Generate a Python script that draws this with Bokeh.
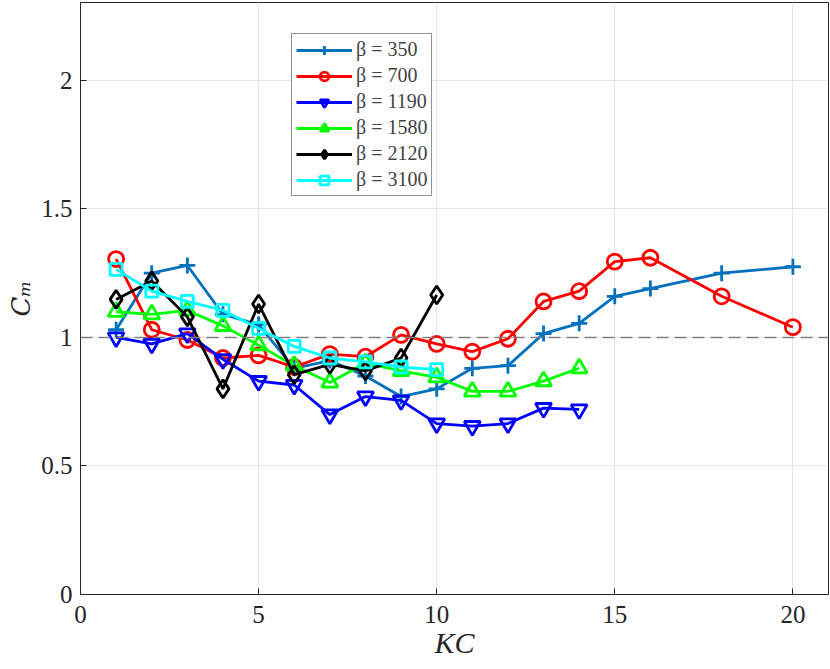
from bokeh.plotting import figure
from bokeh.embed import file_html
from bokeh.resources import INLINE
from bokeh.models import Range1d, Span, FixedTicker, Legend, LegendItem

kc_350 = [1, 2, 3, 4, 5, 6, 7, 8, 9, 10, 11, 12, 13, 14, 15, 16, 18, 20]
cm_350 = [1.03, 1.25, 1.28, 1.09, 1.05, 0.88, 0.91, 0.85, 0.77, 0.80, 0.88, 0.89, 1.015, 1.055, 1.16, 1.19, 1.25, 1.275]

kc_700 = [1, 2, 3, 4, 5, 6, 7, 8, 9, 10, 11, 12, 13, 14, 15, 16, 18, 20]
cm_700 = [1.305, 1.03, 0.99, 0.92, 0.93, 0.885, 0.935, 0.925, 1.01, 0.975, 0.945, 0.995, 1.14, 1.18, 1.295, 1.31, 1.16, 1.04]

kc_1190 = [1, 2, 3, 4, 5, 6, 7, 8, 9, 10, 11, 12, 13, 14]
cm_1190 = [1.0, 0.975, 1.015, 0.915, 0.83, 0.815, 0.70, 0.77, 0.755, 0.665, 0.655, 0.665, 0.725, 0.72]

kc_1580 = [1, 2, 3, 4, 5, 6, 7, 8, 9, 10, 11, 12, 13, 14]
cm_1580 = [1.10, 1.09, 1.105, 1.045, 0.97, 0.89, 0.825, 0.90, 0.87, 0.845, 0.79, 0.79, 0.83, 0.88]

kc_2120 = [1, 2, 3, 4, 5, 6, 7, 8, 9, 10]
cm_2120 = [1.148, 1.22, 1.08, 0.80, 1.13, 0.855, 0.895, 0.87, 0.92, 1.165]

kc_3100 = [1, 2, 3, 4, 5, 6, 7, 8, 9, 10]
cm_3100 = [1.265, 1.18, 1.14, 1.105, 1.035, 0.965, 0.92, 0.905, 0.885, 0.875]

labels = ["β = 350", "β = 700", "β = 1190", "β = 1580", "β = 2120", "β = 3100"]
x_ticks = [0, 5, 10, 15, 20]
y_ticks = [0, 0.5, 1, 1.5, 2]

series = [
    (kc_350, cm_350, "#0072BD", "cross", 16),
    (kc_700, cm_700, "#FF0000", "circle", 15),
    (kc_1190, cm_1190, "#0000FF", "inverted_triangle", 16),
    (kc_1580, cm_1580, "#00FF00", "triangle", 16),
    (kc_2120, cm_2120, "#000000", "diamond", 18),
    (kc_3100, cm_3100, "#00FFFF", "square", 12),
]

p = figure(width=830, height=669, output_backend="svg", toolbar_location=None,
           x_range=Range1d(0, 21), y_range=Range1d(0, 2.303),
           min_border_left=80, min_border_right=2, min_border_top=2, min_border_bottom=75)

p.outline_line_color = "#262626"
p.outline_line_width = 1
p.background_fill_color = "white"
p.border_fill_color = "white"

for ax in (p.xaxis, p.yaxis):
    ax.major_label_text_font = "Liberation Serif"
    ax.major_label_text_font_size = "25px"
    ax.major_label_text_color = "#262626"
    ax.axis_line_color = "#262626"
    ax.major_tick_line_color = "#262626"
    ax.major_tick_in = 6
    ax.major_tick_out = 0
    ax.minor_tick_line_color = None
    ax.axis_label_text_font = "Liberation Serif"
    ax.axis_label_text_font_style = "italic"
    ax.axis_label_text_font_size = "30px"
    ax.axis_label_text_color = "#262626"

p.xaxis.ticker = FixedTicker(ticks=x_ticks)
p.yaxis.ticker = FixedTicker(ticks=y_ticks)
p.xaxis.major_label_overrides = {0: "0", 5: "5", 10: "10", 15: "15", 20: "20"}
p.yaxis.major_label_overrides = {0: "0", 0.5: "0.5", 1: "1", 1.5: "1.5", 2: "2"}
p.xaxis.axis_label = "KC"
p.yaxis.axis_label = "Cₘ"
p.yaxis.axis_label_text_font = "DejaVu Serif"
p.yaxis.axis_label_text_font_size = "26px"
p.xaxis.axis_label_standoff = 0
p.yaxis.axis_label_standoff = 2
p.xaxis.major_label_standoff = 11
p.yaxis.major_label_standoff = 8

p.xgrid.ticker = FixedTicker(ticks=x_ticks)
p.ygrid.ticker = FixedTicker(ticks=y_ticks)
p.grid.grid_line_color = "#E6E6E6"
p.grid.grid_line_width = 1

ref = Span(location=1, dimension="width", line_color="#808080", line_width=1.5, line_dash="12 6")
p.add_layout(ref)

items = []
for (xs, ys, col, mk, sz), lab in zip(series, labels):
    r1 = p.line(xs, ys, line_color=col, line_width=2.8)
    r2 = p.scatter(xs, ys, marker=mk, size=sz, line_color=col, line_width=2.8,
                   fill_color="white", fill_alpha=0)
    items.append(LegendItem(label=lab, renderers=[r1, r2]))

legend = Legend(items=items, location=(211, 398))
legend.label_text_font = "Liberation Serif"
legend.label_text_font_size = "20px"
legend.glyph_width = 56
legend.glyph_height = 22
legend.spacing = 3
legend.padding = 4
legend.margin = 0
legend.label_standoff = 4
legend.border_line_color = "#262626"
legend.border_line_width = 1
legend.background_fill_alpha = 1
p.add_layout(legend, "center")

open("out.html", "w").write(file_html(p, INLINE))
